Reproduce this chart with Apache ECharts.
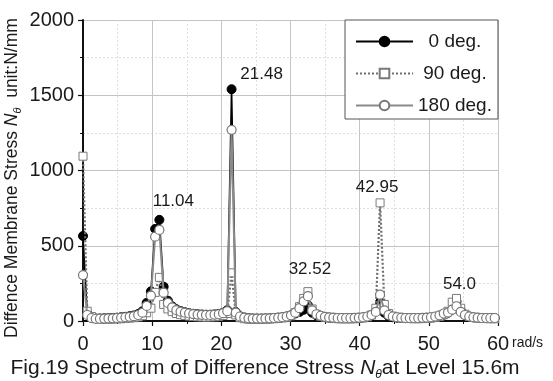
<!DOCTYPE html>
<html><head><meta charset="utf-8">
<script src="https://cdn.jsdelivr.net/npm/echarts@6/dist/echarts.min.js"></script>
<style>html,body{margin:0;padding:0;background:#fff}#c{width:553px;height:381px}</style>
</head><body><div id="c"></div>
<script>
// Frequency samples (rad/s)
const freq = [0,0.61,1.23,1.84,2.45,3.07,3.68,4.30,4.91,5.52,6.14,6.75,7.36,7.98,8.59,9.20,9.82,10.43,11.04,11.66,
12.27,12.89,13.50,14.11,14.73,15.34,15.95,16.57,17.18,17.79,18.41,19.02,19.63,20.25,20.86,21.48,22.09,22.70,23.32,23.93,
24.54,25.16,25.77,26.38,27.00,27.61,28.23,28.84,29.45,30.07,30.68,31.29,31.91,32.52,33.13,33.75,34.36,34.98,35.59,36.20,
36.82,37.43,38.04,38.66,39.27,39.88,40.50,41.11,41.72,42.34,42.95,43.57,44.18,44.79,45.41,46.02,46.63,47.25,47.86,48.47,
49.09,49.70,50.31,50.93,51.54,52.16,52.77,53.38,54.00,54.61,55.22,55.84,56.45,57.06,57.68,58.29,58.90,59.52];

const deg0 = [565,50,22,17,17,18,19,20,22,25,28,32,37,46,65,120,197,612,672,228,
135,98,78,66,58,52,48,45,43,42,42,44,47,55,72,1540,60,32,23,19,
17,16,16,17,18,20,22,25,30,38,50,60,75,105,55,38,30,25,22,20,
19,19,19,19,20,21,24,28,38,65,125,55,32,25,22,20,19,19,19,19,
20,21,23,27,33,42,55,75,130,70,40,30,24,21,20,19,19,19];

const deg90 = [1095,65,30,15,12,12,12,13,14,15,17,19,22,27,35,55,85,190,290,110,
80,62,50,42,37,33,30,28,27,26,27,28,31,37,50,320,40,22,15,12,
11,11,11,12,13,15,17,20,25,35,55,95,150,195,80,45,32,25,20,17,
15,14,14,14,15,17,20,27,40,85,785,110,50,32,24,20,17,16,15,15,
16,17,19,23,30,42,65,125,150,85,45,30,23,19,17,16,15,15];

const deg180 = [305,40,20,15,15,16,17,18,20,22,25,28,32,40,55,100,168,560,605,188,
120,90,72,62,55,50,46,43,41,40,40,42,45,52,65,1270,55,30,22,18,
16,16,16,17,18,20,22,25,30,38,55,85,130,165,70,45,35,28,24,22,
20,20,20,20,21,22,25,30,40,60,175,70,40,30,25,22,20,20,20,20,
21,22,25,30,38,50,56,75,98,60,40,30,25,22,20,20,20,20];

const seriesNames = ['0 deg.', '90 deg.', '180 deg.'];
const xTicks = [0, 10, 20, 30, 40, 50, 60];
const yTicks = [0, 500, 1000, 1500, 2000];

// peak annotations: [series index, sample index, text]
const peakLabels = [
  [0, 18, '11.04'],
  [0, 35, '21.48'],
  [1, 53, '32.52'],
  [1, 70, '42.95'],
  [1, 88, '54.0']
];
const labelOffsets = {'11.04':[14,0], '21.48':[30,4], '32.52':[2,-4], '42.95':[-3,2], '54.0':[3,4]};

function build(si, vals) {
  return vals.map((v, i) => {
    const pk = peakLabels.find(p => p[0] === si && p[1] === i);
    if (!pk) return [freq[i], v];
    return {
      value: [freq[i], v],
      label: {
        show: true, position: 'top', formatter: pk[2],
        offset: labelOffsets[pk[2]], fontSize: 17, color: '#1a1a1a',
        fontFamily: 'Liberation Sans, Arial, sans-serif'
      }
    };
  });
}

const font = 'Liberation Sans, Arial, sans-serif';
const chart = echarts.init(document.getElementById('c'), null, {renderer: 'canvas'});
chart.setOption({
  animation: false,
  backgroundColor: '#fff',
  grid: {left: 83, right: 55, top: 20, bottom: 60, containLabel: false},
  legend: {
    orient: 'vertical', left: 345, top: 20, width: 154,
    padding: [12, 6, 4, 10], itemGap: 13, itemWidth: 57, itemHeight: 12,
    borderColor: '#555', borderWidth: 1, backgroundColor: '#fff',
    textStyle: {fontSize: 19, color: '#1a1a1a', fontFamily: font},
    formatter: function (n) { return n === '0 deg.' ? '  ' + n : (n === '90 deg.' ? ' ' + n : n); },
    data: seriesNames
  },
  xAxis: {
    type: 'value', min: xTicks[0], max: xTicks[xTicks.length - 1], interval: 10,
    axisLine: {show: true, onZero: false, lineStyle: {color: '#111', width: 2}},
    axisTick: {show: true, length: 5, lineStyle: {color: '#111', width: 1.2}},
    minorTick: {show: true, splitNumber: 2, length: 3, lineStyle: {color: '#111'}},
    axisLabel: {fontSize: 20, color: '#1a1a1a', margin: 13, fontFamily: font},
    splitLine: {show: true, lineStyle: {color: '#c4c4c4', width: 1}},
    minorSplitLine: {show: true, lineStyle: {color: '#dedede', width: 1, type: [2, 2]}}
  },
  yAxis: {
    type: 'value', min: yTicks[0], max: yTicks[yTicks.length - 1], interval: 500,
    axisLine: {show: true, lineStyle: {color: '#111', width: 2}},
    axisTick: {show: true, length: 5, lineStyle: {color: '#111', width: 1.2}},
    minorTick: {show: true, splitNumber: 2, length: 3, lineStyle: {color: '#111'}},
    axisLabel: {fontSize: 20, color: '#1a1a1a', margin: 9, fontFamily: font, formatter: function (v) { return String(v); }},
    splitLine: {show: true, lineStyle: {color: '#c4c4c4', width: 1}},
    minorSplitLine: {show: true, lineStyle: {color: '#dedede', width: 1, type: [2, 2]}}
  },
  series: [
    {
      name: seriesNames[0], type: 'line', data: build(0, deg0), z: 2,
      symbol: 'circle', symbolSize: 9, showAllSymbol: true,
      lineStyle: {color: '#000', width: 1.6},
      itemStyle: {color: '#000', borderColor: '#000', borderWidth: 1}
    },
    {
      name: seriesNames[1], type: 'line', data: build(1, deg90), z: 3,
      symbol: 'rect', symbolSize: 8, showAllSymbol: true,
      lineStyle: {color: '#6e6e6e', width: 2.2, type: [2, 2]},
      itemStyle: {color: '#fff', borderColor: '#7a7a7a', borderWidth: 1}
    },
    {
      name: seriesNames[2], type: 'line', data: build(2, deg180), z: 4,
      symbol: 'circle', symbolSize: 9, showAllSymbol: true,
      lineStyle: {color: '#8a8a8a', width: 2},
      itemStyle: {color: '#fff', borderColor: '#777', borderWidth: 1.2}
    }
  ],
  graphic: [
    {
      type: 'text', x: 12, y: 178, rotation: Math.PI / 2,
      style: {
        text: 'Diffence Membrane Stress {n|N}{s|θ}  unit:N/mm',
        rich: {
          n: {fontStyle: 'italic', fontSize: 17.5, fontFamily: font, fill: '#1a1a1a'},
          s: {fontStyle: 'italic', fontSize: 11, fontFamily: font, fill: '#1a1a1a', padding: [11, 0, 0, 0]}
        },
        fontSize: 17.5, fontFamily: font, fill: '#1a1a1a',
        align: 'center', verticalAlign: 'middle'
      }
    },
    {
      type: 'text', x: 265, y: 368,
      style: {
        text: 'Fig.19 Spectrum of Difference Stress {n|N}{s|θ}at Level 15.6m',
        rich: {
          n: {fontStyle: 'italic', fontSize: 21, fontFamily: font, fill: '#1a1a1a'},
          s: {fontStyle: 'italic', fontSize: 12, fontFamily: font, fill: '#1a1a1a', padding: [13, 0, 0, 0]}
        },
        fontSize: 21, fontFamily: font, fill: '#1a1a1a',
        align: 'center', verticalAlign: 'middle'
      }
    },
    {
      type: 'text', x: 512, y: 343,
      style: {text: 'rad/s', fontSize: 14, fontFamily: font, fill: '#1a1a1a', align: 'left', verticalAlign: 'middle'}
    }
  ]
});
</script></body></html>
